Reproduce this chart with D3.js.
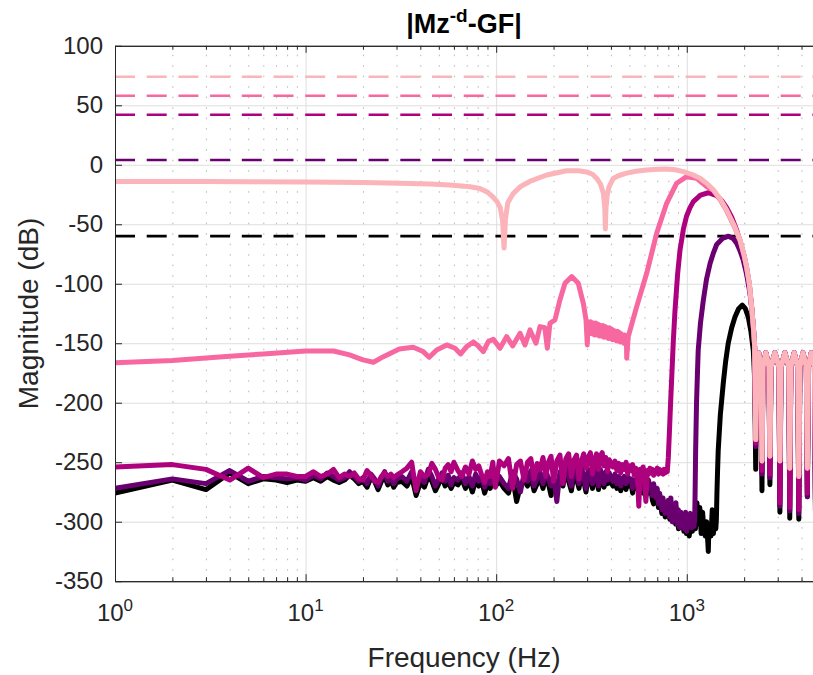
<!DOCTYPE html>
<html>
<head>
<meta charset="utf-8">
<script src="https://cdn.jsdelivr.net/npm/d3@7"></script>
<style>
body { margin: 0; background: #fff; }
svg text { font-family: "Liberation Sans", Arial, Helvetica, sans-serif; }
</style>
</head>
<body>
<svg id="chart" width="813" height="675"></svg>
<script>
// ---- data ----
const yTicks = [-350, -300, -250, -200, -150, -100, -50, 0, 50, 100];
const xMajor = [1, 10, 100, 1000];
const xMinor = [2,3,4,5,6,7,8,9, 20,30,40,50,60,70,80,90, 200,300,400,500,600,700,800,900, 2000,3000,4000];

// dashed reference levels, dB
const refLevels = [74, 58, 42, 4, -60];
const refColors = ["#fbb4b9", "#f768a1", "#ae017e", "#6a0070", "#000000"];

// noise floor, shared frequency grid (Hz)
const noiseHz = [1,2,3,4,5,6,7,8,9,10,11,12,13,14,15,16,17,18,19,20,21,22,23,24,25,26,27,28,29,30,
  32,34,36,38,40,42,44,46,48,50,52,54,56,58,60,
  63,66,69,72,75,78,81,84,87,90,93,96,99,
  104,110,116,122,128,134,140,146,152,158,164,170,176,182,188,194,200,
  208,216,224,232,240,248,256,264,272,280,288,296,304,312,320,328,336,344,352,360,368,376,384,392,400,
  410,420,430,440,450,460,470,480,490,500,510,520,530,540,550,560,570,580,590,600,610,620,630,640,650,660,670,680,690,700,710,720,730,740,750,760,770,780,790];

const magentaNoise = [-254,-252,-256,-265,-255,-263,-260,-260,-262,-262,-258,-262,-260,-256,-263,-260,-262,-259,-264,-265,-257,-261,-266,-267,-262,-259,-262,-260,-263,-261,
  -258,-255,-250,-274,-258,-262,-260,-251,-256,-263,-265,-255,-252,-258,-250,
  -257,-262,-254,-260,-249,-256,-253,-261,-267,-258,-262,-250,-271,
  -249,-253,-247,-272,-252,-249,-265,-250,-247,-264,-251,-256,-246,-262,-250,-245,-266,
  -249,-244,-268,-247,-243,-262,-248,-244,-264,-249,-243,-255,-246,-242,-260,-248,-243,-256,-245,-242,-253,-246,-258,-248,-251,
  -254,-249,-257,-251,-259,-252,-256,-250,-260,-253,-257,-252,-261,-255,-258,-287,-256,-260,-254,-262,-283,-257,-260,-255,-259,-256,-261,-257,-259,-255,-260,-256,-259,-257,-260,-256,-259,-257,-258];

const purpleNoise = [-272,-264,-268,-257,-266,-262,-263,-264,-263,-265,-261,-264,-259,-262,-265,-263,-258,-262,-266,-263,-268,-260,-264,-270,-263,-258,-266,-262,-268,-264,
  -262,-266,-258,-270,-263,-267,-256,-262,-270,-264,-259,-266,-261,-269,-263,
  -265,-259,-268,-262,-270,-260,-266,-262,-271,-264,-268,-260,-266,
  -262,-268,-272,-258,-264,-275,-260,-266,-257,-270,-263,-259,-268,-257,-264,-270,-261,
  -283,-258,-266,-252,-262,-270,-255,-260,-268,-254,-262,-272,-256,-260,-268,-253,-261,-270,-256,-262,-268,-258,-265,-259,-263,
  -266,-260,-268,-262,-270,-264,-262,-268,-262,-266,-264,-272,-265,-268,-262,-270,-267,-264,-272,-266,-275,-268,-265,-272,-270,-278,-268,-274,-280,-272,-285,-276,-282,-290,-280,-286,-293,-284,-290];

const blackNoise = [-276,-265,-273,-259,-268,-264,-265,-267,-265,-266,-263,-266,-262,-265,-267,-265,-261,-264,-268,-266,-271,-263,-266,-273,-266,-262,-269,-265,-271,-267,
  -266,-270,-262,-278,-267,-271,-262,-266,-274,-268,-263,-270,-266,-272,-267,
  -269,-264,-272,-266,-275,-265,-270,-266,-276,-268,-272,-265,-270,
  -266,-272,-276,-263,-283,-270,-265,-270,-262,-274,-268,-264,-272,-262,-268,-278,-266,
  -270,-262,-270,-256,-266,-274,-260,-264,-272,-259,-266,-275,-261,-264,-272,-258,-265,-273,-261,-266,-271,-262,-268,-263,-267,
  -270,-264,-272,-266,-274,-268,-266,-273,-266,-270,-268,-276,-269,-272,-266,-274,-271,-268,-276,-270,-279,-272,-269,-276,-274,-282,-285,-278,-284,-276,-288,-280,-286,-293,-284,-290,-296,-288,-294];

// main lobes, [Hz, dB]
const magentaLobe = [[800,-246],[810,-226],[820,-205],[833,-180],[850,-148],[867,-123],[895,-92],[921,-72],[960,-54],[998,-43],
  [1040,-36],[1082,-31],[1180,-25.5],[1297,-23.5],[1435,-26],[1524,-30],[1619,-36],[1720,-44],[1827,-55],[1902,-64],
  [2000,-77],[2061,-87],[2130,-101],[2189,-120],[2240,-139],[2270,-153]];

const purpleLobe = [[800,-282],[812,-296],[825,-280],[838,-300],[851,-286],[864,-298],[877,-284],[890,-302],[903,-290],[916,-305],
  [930,-292],[944,-300],[958,-295],[972,-306],[986,-292],[1000,-308],[1015,-296],[1030,-303],[1045,-293],[1060,-305],
  [1075,-297],[1090,-304],[1100,-298],[1106,-275],[1113,-240],[1125,-200],[1135,-180],[1148,-156],[1180,-133],[1221,-114],
  [1270,-96],[1325,-83],[1380,-74],[1435,-67],[1540,-62],[1655,-60],[1750,-62],[1827,-66],[1900,-72],[1977,-80],
  [2060,-92],[2146,-108],[2189,-120],[2240,-139],[2270,-153]];

const blackLobe = [[800,-290],[815,-298],[830,-286],[845,-300],[860,-292],[875,-302],[890,-294],[905,-306],[920,-296],[935,-304],
  [950,-298],[965,-308],[980,-300],[995,-310],[1010,-302],[1030,-312],[1050,-300],[1070,-308],[1090,-296],[1110,-306],
  [1130,-284],[1150,-302],[1170,-288],[1190,-310],[1210,-292],[1230,-306],[1250,-312],[1270,-300],[1290,-318],[1297,-325],
  [1305,-306],[1320,-302],[1340,-312],[1360,-290],[1380,-310],[1400,-300],[1420,-306],[1430,-298],[1440,-275],[1450,-258],
  [1462,-240],[1500,-210],[1553,-184],[1600,-165],[1650,-150],[1720,-137],[1790,-128],[1870,-121],[1956,-118],[2030,-121],
  [2102,-128],[2170,-140],[2234,-156],[2270,-180]];

const pinkCurve = [[1,-166.3],[2,-164.6],[3,-162.5],[4,-161],[6,-159],[10,-156.5],[14,-156.5],[17,-159.8],[20,-164],[22.7,-166],
  [25.6,-161.3],[31,-154.8],[36.7,-153.4],[41.4,-157],[44.5,-161.8],[48.7,-155.6],[55,-151.4],[60.8,-154.2],[65.1,-159],[70,-152.8],
  [75.9,-148.9],[80.6,-152.3],[85.6,-157],[90.9,-148.6],[96.6,-146.6],[104.7,-154.2],[113.5,-144.4],[122,-152.3],[133.4,-141.6],[141.6,-151.4],
  [150.4,-138.8],[161.7,-150],[169.8,-136],[180,-137],[185.5,-154.2],[191.5,-133.2],[203.4,-130.4],[216,-113.6],[229.6,-99.6],[249,-94],
  [269.6,-99.6],[286.6,-116.4],[296,-130.4],[300.7,-151.4],
  [303,-132],[308,-142],[313,-132],[318,-142],[323,-133],[328,-143],[333,-133],[338,-143],[343,-134],[348,-144],
  [353,-135],[358,-144],[363,-135],[368,-145],[373,-136],[378,-145],[383,-137],[388,-146],[393,-137],[398,-146],
  [403,-138],[408,-147],[413,-139],[418,-147],[423,-140],[428,-148],[433,-140],[438,-148],[443,-141],[448,-149],
  [453,-142],[458,-149],[463,-143],[468,-150],[473,-143],[478,-150],[482,-144],[484,-162.6],[493,-144.4],[546,-119.2],
  [616,-91.2],[695,-57.6],[784,-32.4],[885,-15.5],[998,-10],[1127,-11.4],[1271,-18.4],[1377,-21.5],[1500,-29.5],[1618,-38.5],
  [1760,-50.5],[1902,-63.5],[2000,-76.5],[2061,-86.5],[2130,-100.5],[2189,-119.5],[2240,-138.5],[2270,-152.5]];

const lightPinkCurve = [[1,-14],[2,-14],[3,-14.1],[5,-14.2],[10,-14.5],[20,-15],[31,-15.5],[45,-16.2],[57,-17],[73,-18.5],
  [82,-20],[90,-23],[96,-27],[101,-31],[105,-36],[108,-47],[110,-70],[112,-45],[115,-32],[123,-24],
  [135,-18],[150,-14],[184,-8.6],[234,-5],[270,-5],[298,-6],[320,-8],[337,-11.5],[352,-16],[365,-24],
  [371,-35],[374,-54],[377,-36],[382,-26],[390,-19],[411,-11.5],[440,-9],[484,-7],[540,-5.5],[616,-4.4],
  [700,-3.7],[784,-3.5],[870,-4.2],[959,-5.8],[1060,-8],[1173,-11.4],[1280,-16],[1377,-21],[1500,-29],[1618,-38],
  [1760,-50],[1902,-63],[2000,-76],[2061,-86],[2130,-100],[2189,-119],[2240,-138],[2270,-152]];

// sidelobe ripples above ~2.3 kHz: dip, rising shoulder, top, falling shoulder
const rippleDipHz   = [2300, 2480, 2730, 3080, 3470, 3870, 4290, 4730];
const riseHz        = [2330, 2510, 2765, 3120, 3515, 3920, 4345, 4790];
const rippleTopHz   = [2385, 2600, 2900, 3270, 3660, 4070, 4500, 4950];
const fallHz        = [2450, 2700, 3045, 3430, 3825, 4240, 4675, 5100];
const shoulderDb = -170;
const rippleTopDb = -158;
const lightPinkDips = [-231, -249, -245, -249, -255, -262, -255, -250];
const pinkDips      = [-231, -249, -245, -249, -255, -262, -255, -250];
const magentaDips   = [-234, -257, -260, -284, -288, -290, -276, -280];
const purpleDips    = [-237, -260, -263, -287, -291, -293, -279, -283];
const blackDips     = [-256, -274, -269, -292, -297, -298, -279, -290];

// ---- layout ----
const box = {left: 115, right: 820, top: 45.8, bottom: 581.2};
const pw = box.right - box.left;
const ph = box.bottom - box.top;
const axisColor = "#262626";

const svg = d3.select("#chart");

const x = d3.scaleLog().domain([1, 5000]).range([box.left, box.right]);
const y = d3.scaleLinear().domain([-350, 100]).range([box.bottom, box.top]);

svg.append("defs").append("clipPath").attr("id", "clip")
  .append("rect")
  .attr("x", box.left).attr("y", box.top)
  .attr("width", pw).attr("height", ph);

// grid
const gridY = svg.append("g")
  .attr("transform", `translate(${box.left},0)`)
  .call(d3.axisLeft(y).tickValues(yTicks).tickSize(-pw).tickFormat(""));
gridY.select(".domain").remove();
gridY.selectAll("line").attr("stroke", "#dedede");

const gridMinor = svg.append("g")
  .attr("transform", `translate(0,${box.bottom})`)
  .call(d3.axisBottom(x).tickValues(xMinor).tickSize(-ph).tickFormat(""));
gridMinor.select(".domain").remove();
gridMinor.selectAll("line").attr("stroke", "#b5b5b5").attr("stroke-dasharray", "1.5,9");

const gridMajor = svg.append("g")
  .attr("transform", `translate(0,${box.bottom})`)
  .call(d3.axisBottom(x).tickValues(xMajor).tickSize(-ph).tickFormat(""));
gridMajor.select(".domain").remove();
gridMajor.selectAll("line").attr("stroke", "#dedede");

// curves
const line = d3.line().x(d => x(d[0])).y(d => y(d[1]));
const plot = svg.append("g").attr("clip-path", "url(#clip)");

plot.selectAll(".ref")
  .data(refLevels)
  .enter()
  .append("path")
  .attr("class", "ref")
  .attr("d", v => line([[x.domain()[0], v], [x.domain()[1], v]]))
  .attr("fill", "none")
  .attr("stroke", (v, i) => refColors[i])
  .attr("stroke-width", 2.6)
  .attr("stroke-dasharray", "20,11.7");

function withRipples(head, dips) {
  const pts = head.slice();
  rippleDipHz.forEach((f, i) => {
    pts.push([f, dips[i]]);
    pts.push([riseHz[i], shoulderDb]);
    pts.push([rippleTopHz[i], rippleTopDb]);
    pts.push([fallHz[i], shoulderDb]);
  });
  return pts;
}
function noise(vals) {
  return noiseHz.map((f, i) => [f, vals[i]]);
}

const curves = [
  {color: "#000000", pts: withRipples(noise(blackNoise).concat(blackLobe), blackDips)},
  {color: "#6a0070", pts: withRipples(noise(purpleNoise).concat(purpleLobe), purpleDips)},
  {color: "#ae017e", pts: withRipples(noise(magentaNoise).concat(magentaLobe), magentaDips)},
  {color: "#f768a1", pts: withRipples(pinkCurve, pinkDips)},
  {color: "#fbb4b9", pts: withRipples(lightPinkCurve, lightPinkDips)}
];

plot.selectAll(".curve")
  .data(curves)
  .enter()
  .append("path")
  .attr("class", "curve")
  .attr("d", c => line(c.pts))
  .attr("fill", "none")
  .attr("stroke", c => c.color)
  .attr("stroke-width", 5)
  .attr("stroke-linejoin", "round");

// axes
function styleAxis(g) {
  g.attr("color", axisColor).attr("font-size", 24)
    .attr("font-family", '"Liberation Sans", Arial, sans-serif');
  g.selectAll("path, line").attr("stroke-width", 1);
}

svg.append("g").attr("transform", `translate(0,${box.bottom})`)
  .call(d3.axisBottom(x).tickValues(xMajor).tickSizeInner(-7).tickSizeOuter(0).tickFormat(""))
  .call(styleAxis);
svg.append("g").attr("transform", `translate(0,${box.bottom})`)
  .call(d3.axisBottom(x).tickValues(xMinor).tickSizeInner(-4).tickSizeOuter(0).tickFormat(""))
  .call(styleAxis);
svg.append("g").attr("transform", `translate(0,${box.top})`)
  .call(d3.axisTop(x).tickValues(xMajor).tickSizeInner(-7).tickSizeOuter(0).tickFormat(""))
  .call(styleAxis);
svg.append("g").attr("transform", `translate(0,${box.top})`)
  .call(d3.axisTop(x).tickValues(xMinor).tickSizeInner(-4).tickSizeOuter(0).tickFormat(""))
  .call(styleAxis);
svg.append("g").attr("transform", `translate(${box.left},0)`)
  .call(d3.axisLeft(y).tickValues(yTicks).tickSizeInner(-7).tickSizeOuter(0).tickPadding(12).tickFormat(d => String(d)))
  .call(styleAxis);
svg.append("g").attr("transform", `translate(${box.right},0)`)
  .call(d3.axisRight(y).tickValues(yTicks).tickSizeInner(-7).tickSizeOuter(0).tickFormat(""))
  .call(styleAxis);

// x tick labels 10^n
const xl = svg.append("g").attr("fill", axisColor);
xMajor.forEach(v => {
  const t = xl.append("text")
    .attr("x", x(v))
    .attr("y", 621)
    .attr("text-anchor", "middle")
    .attr("font-size", 24);
  t.append("tspan").text("10");
  t.append("tspan").attr("dy", -10).attr("font-size", 17).text(Math.round(Math.log10(v)));
});

// title and labels
const title = svg.append("text")
  .attr("x", 464).attr("y", 33)
  .attr("text-anchor", "middle")
  .attr("font-size", 27)
  .attr("font-weight", "bold")
  .attr("fill", "#000");
title.append("tspan").text("|Mz");
title.append("tspan").attr("dy", -11).attr("font-size", 19).text("-d");
title.append("tspan").attr("dy", 11).text("-GF|");

svg.append("text")
  .attr("x", 464).attr("y", 667)
  .attr("text-anchor", "middle")
  .attr("font-size", 28)
  .attr("fill", axisColor)
  .text("Frequency (Hz)");

svg.append("text")
  .attr("transform", `translate(38,${(box.top + box.bottom) / 2}) rotate(-90)`)
  .attr("text-anchor", "middle")
  .attr("font-size", 28)
  .attr("fill", axisColor)
  .text("Magnitude (dB)");
</script>
</body>
</html>
